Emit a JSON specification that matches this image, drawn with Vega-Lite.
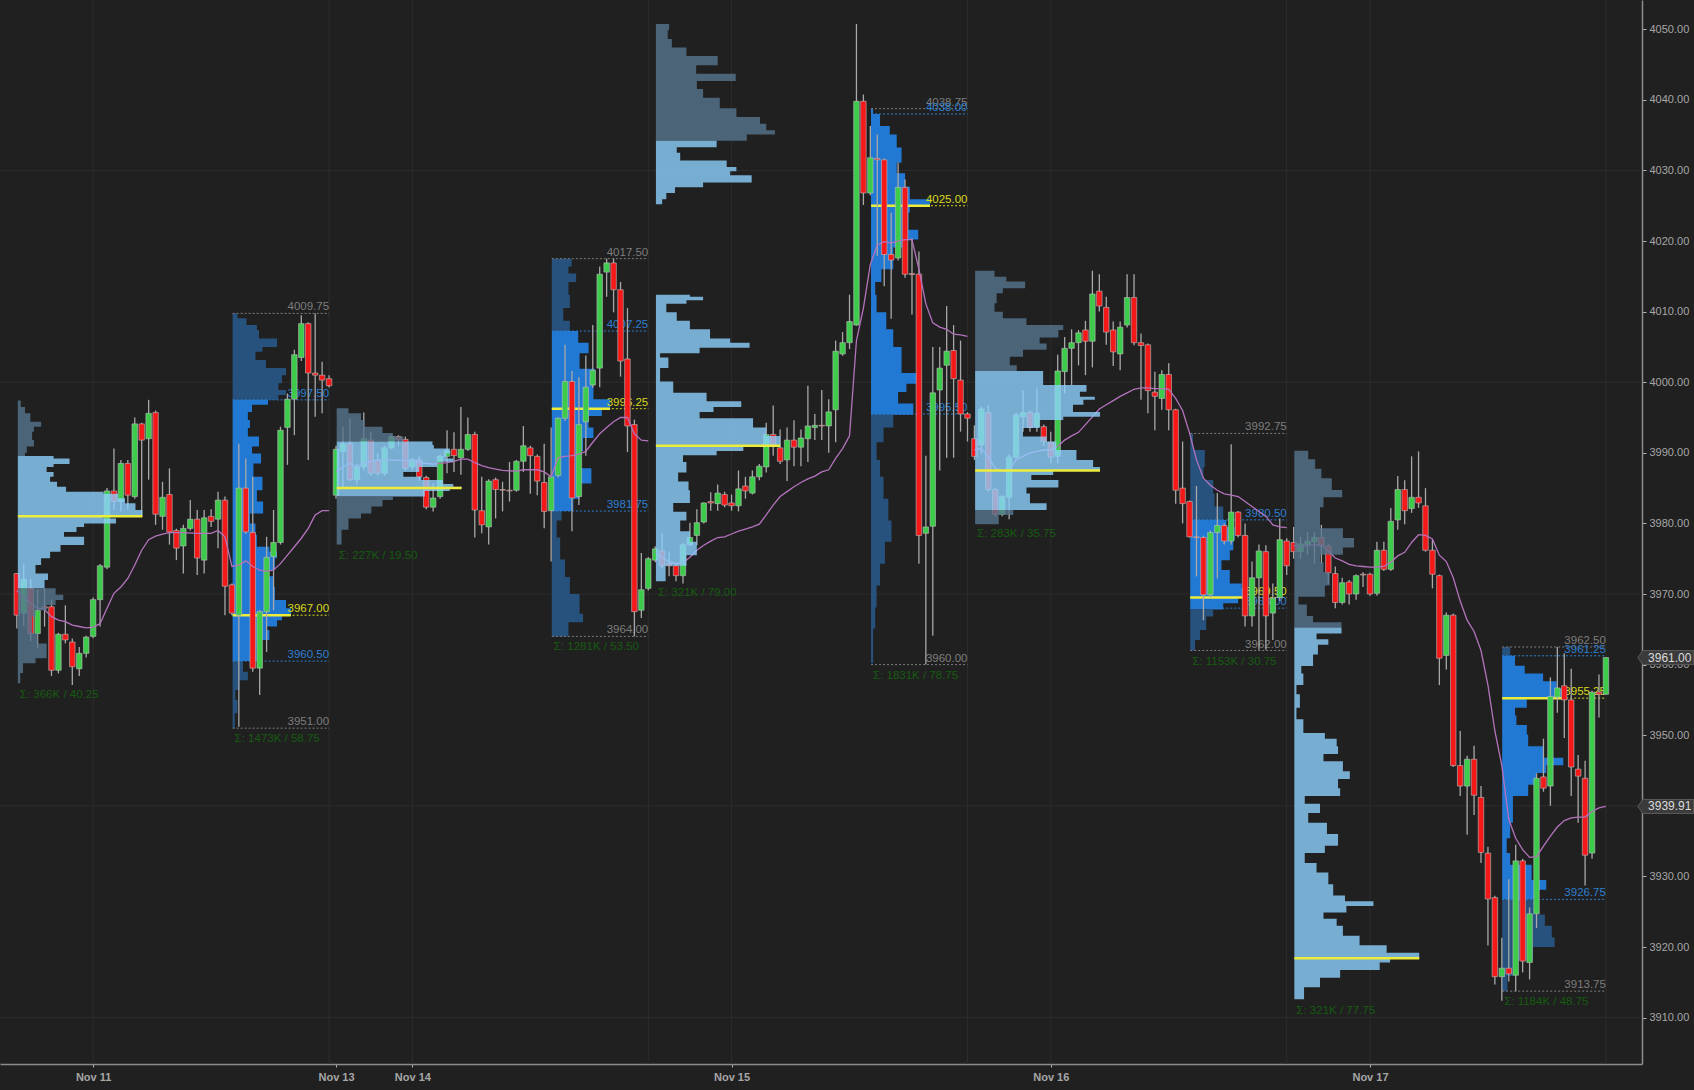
{
"$schema":"https://vega.github.io/schema/vega-lite/v6.json",
"width":1642,"height":1064,"autosize":"none",
"padding":{"left":0,"top":0,"right":52,"bottom":26},
"background":"#202020",
"config":{"view":{"stroke":null},"font":"Liberation Sans"},
"datasets":{
"zones":[
{"z":"1a","s":0.15,"k":"eo"},{"z":"1b","s":0.15,"k":"ev"},{"z":"1c","s":0.15,"k":"eo"},
{"z":"2a","s":31.1,"k":"ro"},{"z":"2b","s":31.1,"k":"rv"},{"z":"2c","s":31.1,"k":"ro"},
{"z":"3a","s":46.1,"k":"eo"},{"z":"3b","s":46.1,"k":"ev"},{"z":"3c","s":46.1,"k":"eo"},
{"z":"4a","s":77.1,"k":"ro"},{"z":"4b","s":77.1,"k":"rv"},{"z":"4c","s":77.1,"k":"ro"},
{"z":"5a","s":92.1,"k":"eo"},{"z":"5b","s":92.1,"k":"ev"},{"z":"5c","s":92.1,"k":"ev"},
{"z":"6b","s":123.1,"k":"rv"},{"z":"6c","s":123.1,"k":"ro"},
{"z":"7a","s":138.1,"k":"eo"},{"z":"7b","s":138.1,"k":"ev"},{"z":"7c","s":138.1,"k":"eo"},
{"z":"8a","s":169.1,"k":"ro"},{"z":"8b","s":169.1,"k":"rv"},{"z":"8c","s":169.1,"k":"ro"},
{"z":"9a","s":184.1,"k":"eo"},{"z":"9b","s":184.1,"k":"ev"},
{"z":"10a","s":214.05,"k":"ro"},{"z":"10b","s":214.05,"k":"rv"},{"z":"10c","s":214.05,"k":"ro"}
],
"eth":[
{"z":"1a","p":3997.4,"e":0.15},{"z":"1a","p":3996.5,"e":0.57},{"z":"1a","p":3995.6,"e":1.18},{"z":"1a","p":3994.4,"e":1.95},{"z":"1a","p":3993.7,"e":3.5},{"z":"1a","p":3993,"e":2.47},{"z":"1a","p":3991.8,"e":2.21},{"z":"1a","p":3990.9,"e":2.47},{"z":"1a","p":3990,"e":1.44},{"z":"1a","p":3989.55,"e":1.18},
{"z":"1b","p":3989.55,"e":1.18},{"z":"1b","p":3989.2,"e":5.3},{"z":"1b","p":3988.75,"e":7.6},{"z":"1b","p":3988.4,"e":7.6},{"z":"1b","p":3988,"e":5.3},{"z":"1b","p":3987.3,"e":4.3},{"z":"1b","p":3986.6,"e":5.3},{"z":"1b","p":3985.9,"e":4.8},{"z":"1b","p":3985.2,"e":5.8},{"z":"1b","p":3984.5,"e":7.1},{"z":"1b","p":3984.2,"e":12.5},{"z":"1b","p":3983.55,"e":14.6},{"z":"1b","p":3982.85,"e":15.6},{"z":"1b","p":3981.9,"e":17.1},{"z":"1b","p":3981.2,"e":18.1},{"z":"1b","p":3980.7,"e":12.5},{"z":"1b","p":3980,"e":14.3},{"z":"1b","p":3979.5,"e":9.7},{"z":"1b","p":3978.8,"e":8.6},{"z":"1b","p":3978.1,"e":6.8},{"z":"1b","p":3976.95,"e":9.7},{"z":"1b","p":3976,"e":6.3},{"z":"1b","p":3975.05,"e":4.8},{"z":"1b","p":3974.1,"e":3.5},{"z":"1b","p":3972.9,"e":2.7},{"z":"1b","p":3972,"e":4.5},{"z":"1b","p":3970.8,"e":4},
{"z":"1c","p":3970.8,"e":4},{"z":"1c","p":3969.9,"e":5.6},{"z":"1c","p":3969.15,"e":6.7},{"z":"1c","p":3968.45,"e":5.6},{"z":"1c","p":3967.7,"e":4.3},{"z":"1c","p":3966.8,"e":2.7},{"z":"1c","p":3965.4,"e":2.2},{"z":"1c","p":3964.4,"e":2.2},{"z":"1c","p":3963,"e":3},{"z":"1c","p":3960.9,"e":4.3},{"z":"1c","p":3960.2,"e":2.7},{"z":"1c","p":3958.8,"e":0.9},{"z":"1c","p":3957.35,"e":0.5},
{"z":"3a","p":3996.3,"e":46.1},{"z":"3a","p":3995.6,"e":47.8},{"z":"3a","p":3994.65,"e":49.6},{"z":"3a","p":3993.7,"e":50.1},{"z":"3a","p":3992.8,"e":52.7},{"z":"3a","p":3992.3,"e":54.2},{"z":"3a","p":3991.6,"e":55.7},
{"z":"3b","p":3991.6,"e":55.7},{"z":"3b","p":3991.1,"e":59.9},{"z":"3b","p":3990.6,"e":60.1},{"z":"3b","p":3989.9,"e":62.4},{"z":"3b","p":3989.2,"e":61.9},{"z":"3b","p":3988.75,"e":62.9},{"z":"3b","p":3988,"e":60.6},{"z":"3b","p":3987.3,"e":58},{"z":"3b","p":3986.6,"e":55.7},{"z":"3b","p":3986.15,"e":58.3},{"z":"3b","p":3985.6,"e":61.4},{"z":"3b","p":3985.2,"e":62.9},{"z":"3b","p":3985,"e":64.1},{"z":"3b","p":3984.6,"e":62.4},{"z":"3b","p":3983.8,"e":58.8},
{"z":"3c","p":3983.8,"e":58.8},{"z":"3c","p":3983.3,"e":54.2},{"z":"3c","p":3982.4,"e":52.7},{"z":"3c","p":3981.4,"e":51.1},{"z":"3c","p":3980.7,"e":49.6},{"z":"3c","p":3979.1,"e":47.8},{"z":"3c","p":3977,"e":46.8},
{"z":"5a","p":4050.75,"e":92.1},{"z":"5a","p":4049.84,"e":94},{"z":"5a","p":4048.6,"e":93.8},{"z":"5a","p":4047.4,"e":94.4},{"z":"5a","p":4046.2,"e":96.5},{"z":"5a","p":4044.9,"e":101},{"z":"5a","p":4043.7,"e":97.9},{"z":"5a","p":4042.65,"e":103.6},{"z":"5a","p":4041.55,"e":98},{"z":"5a","p":4040.3,"e":98.9},{"z":"5a","p":4038.8,"e":101.3},{"z":"5a","p":4037.55,"e":103.7},{"z":"5a","p":4036.6,"e":107.1},{"z":"5a","p":4035.7,"e":108},{"z":"5a","p":4035.1,"e":109.25},{"z":"5a","p":4034.2,"e":105.2},
{"z":"5b","p":4034.2,"e":105.2},{"z":"5b","p":4033.3,"e":100.85},{"z":"5b","p":4032.5,"e":95.1},{"z":"5b","p":4031.4,"e":95.6},{"z":"5b","p":4030.5,"e":102.3},{"z":"5b","p":4029.9,"e":103.7},{"z":"5b","p":4029.3,"e":102.8},{"z":"5b","p":4028.3,"e":105.9},{"z":"5b","p":4027.6,"e":98.9},{"z":"5b","p":4026.8,"e":94.85},{"z":"5b","p":4025.9,"e":93.6},{"z":"5b","p":4025.2,"e":93},
{"z":"5c","p":4012.4,"e":92.1},{"z":"5c","p":4012.1,"e":97},{"z":"5c","p":4011.6,"e":98.9},{"z":"5c","p":4011.1,"e":96.5},{"z":"5c","p":4009.9,"e":93.6},{"z":"5c","p":4008.7,"e":95.1},{"z":"5c","p":4007.5,"e":97},{"z":"5c","p":4006.2,"e":99.9},{"z":"5c","p":4005.6,"e":102.8},{"z":"5c","p":4004.9,"e":105.6},{"z":"5c","p":4004.1,"e":98.4},{"z":"5c","p":4003.5,"e":92.7},{"z":"5c","p":4002,"e":93.9},{"z":"5c","p":4000.1,"e":92.7},{"z":"5c","p":3998.5,"e":94.6},{"z":"5c","p":3997.3,"e":99.4},{"z":"5c","p":3996.5,"e":104.4},{"z":"5c","p":3995.8,"e":100.4},{"z":"5c","p":3994.9,"e":98.4},{"z":"5c","p":3993.6,"e":106.1},{"z":"5c","p":3992.4,"e":108},{"z":"5c","p":3991,"e":110},{"z":"5c","p":3990.25,"e":104.7},{"z":"5c","p":3989.65,"e":100.85},{"z":"5c","p":3988.7,"e":96},{"z":"5c","p":3987.2,"e":96.5},{"z":"5c","p":3985.95,"e":95.3},{"z":"5c","p":3984.7,"e":96.8},{"z":"5c","p":3982.9,"e":97},{"z":"5c","p":3981.65,"e":94.6},{"z":"5c","p":3980.4,"e":96.5},{"z":"5c","p":3978.9,"e":95.6},{"z":"5c","p":3977.4,"e":97},{"z":"5c","p":3975.5,"e":98},{"z":"5c","p":3974,"e":96.5},{"z":"5c","p":3971.8,"e":93.5},
{"z":"7a","p":4015.8,"e":138.1},{"z":"7a","p":4014.95,"e":140.9},{"z":"7a","p":4014.25,"e":142.6},{"z":"7a","p":4013.3,"e":145.3},{"z":"7a","p":4012.6,"e":142.1},{"z":"7a","p":4011.2,"e":141.2},{"z":"7a","p":4010,"e":140.9},{"z":"7a","p":4009.05,"e":142.1},{"z":"7a","p":4008.1,"e":145.5},{"z":"7a","p":4007.4,"e":150.8},{"z":"7a","p":4006.35,"e":150.1},{"z":"7a","p":4005.5,"e":147.4},{"z":"7a","p":4004.6,"e":148.4},{"z":"7a","p":4003.6,"e":145},{"z":"7a","p":4002.4,"e":143.1},{"z":"7a","p":4001.6,"e":144.1},
{"z":"7b","p":4001.6,"e":149.35},{"z":"7b","p":4000.55,"e":147.9},{"z":"7b","p":3999.6,"e":147.9},{"z":"7b","p":3998.65,"e":154.15},{"z":"7b","p":3997.95,"e":153.2},{"z":"7b","p":3997.5,"e":155.35},{"z":"7b","p":3996.8,"e":153.7},{"z":"7b","p":3995.8,"e":152.2},{"z":"7b","p":3995.1,"e":156.1},{"z":"7b","p":3994.65,"e":150.8},{"z":"7b","p":3993.5,"e":147.4},{"z":"7b","p":3992.3,"e":145},{"z":"7b","p":3991.6,"e":148.4},{"z":"7b","p":3990.4,"e":149.8},{"z":"7b","p":3989,"e":152.7},{"z":"7b","p":3988,"e":155.1},{"z":"7b","p":3987.5,"e":156.1},{"z":"7b","p":3986.85,"e":149.35},{"z":"7b","p":3986.15,"e":146.2},{"z":"7b","p":3985.1,"e":150.1},{"z":"7b","p":3984.25,"e":145.5},{"z":"7b","p":3982.85,"e":146},{"z":"7b","p":3981.9,"e":148.4},
{"z":"7c","p":3981.9,"e":146.2},{"z":"7c","p":3981.2,"e":143.6},{"z":"7c","p":3979.9,"e":141.5},
{"z":"9a","p":3990.3,"e":184.1},{"z":"9a","p":3989.1,"e":186.1},{"z":"9a","p":3987.75,"e":187.1},{"z":"9a","p":3986.4,"e":188},{"z":"9a","p":3984.75,"e":189.5},{"z":"9a","p":3983.7,"e":191},{"z":"9a","p":3982.3,"e":188.3},{"z":"9a","p":3981,"e":187.8},{"z":"9a","p":3979.3,"e":187.8},{"z":"9a","p":3977.95,"e":191.1},{"z":"9a","p":3976.6,"e":192.7},{"z":"9a","p":3975.55,"e":191.1},{"z":"9a","p":3974.5,"e":187.8},{"z":"9a","p":3973.1,"e":188.3},{"z":"9a","p":3971.2,"e":189.2},{"z":"9a","p":3969.6,"e":188.5},{"z":"9a","p":3968.5,"e":184.7},{"z":"9a","p":3966.9,"e":185.9},{"z":"9a","p":3966,"e":186.8},{"z":"9a","p":3965.25,"e":190.9},
{"z":"9b","p":3965.25,"e":190.9},{"z":"9b","p":3964.4,"e":190.9},{"z":"9b","p":3963.6,"e":187.3},{"z":"9b","p":3962.8,"e":189},{"z":"9b","p":3961.45,"e":187.5},{"z":"9b","p":3959.8,"e":186.8},{"z":"9b","p":3958.75,"e":185.1},{"z":"9b","p":3957.1,"e":185.4},{"z":"9b","p":3955.8,"e":184.4},{"z":"9b","p":3953.9,"e":184.9},{"z":"9b","p":3952.25,"e":184.4},{"z":"9b","p":3950.3,"e":185.4},{"z":"9b","p":3949.5,"e":188.5},{"z":"9b","p":3948.45,"e":190.2},{"z":"9b","p":3947.35,"e":190.4},{"z":"9b","p":3946.3,"e":188.3},{"z":"9b","p":3944.9,"e":191.1},{"z":"9b","p":3943.8,"e":192.1},{"z":"9b","p":3942.5,"e":190.4},{"z":"9b","p":3941.4,"e":190.7},{"z":"9b","p":3940.3,"e":185.6},{"z":"9b","p":3939,"e":187.8},{"z":"9b","p":3937.6,"e":186.1},{"z":"9b","p":3936,"e":188.8},{"z":"9b","p":3934.35,"e":190.4},{"z":"9b","p":3933.3,"e":188.5},{"z":"9b","p":3931.9,"e":185.6},{"z":"9b","p":3930.55,"e":187.3},{"z":"9b","p":3928.9,"e":189},{"z":"9b","p":3927.3,"e":189.7},{"z":"9b","p":3926.5,"e":191.4},{"z":"9b","p":3925.8,"e":195.5},{"z":"9b","p":3924.9,"e":191.6},{"z":"9b","p":3924,"e":188.3},{"z":"9b","p":3923,"e":190.2},{"z":"9b","p":3921.6,"e":191.1},{"z":"9b","p":3920.25,"e":193.5},{"z":"9b","p":3919.2,"e":197.4},{"z":"9b","p":3918.4,"e":202.1},{"z":"9b","p":3917.8,"e":197.9},{"z":"9b","p":3916.75,"e":196.4},{"z":"9b","p":3915.65,"e":190.7},{"z":"9b","p":3914.3,"e":187.8},{"z":"9b","p":3912.6,"e":185.5}
],
"rth":[
{"z":"2a","p":4009.76,"e":31.1},{"z":"2a","p":4009.05,"e":31.8},{"z":"2a","p":4008.1,"e":33.1},{"z":"2a","p":4007.4,"e":34.6},{"z":"2a","p":4006.2,"e":34.9},{"z":"2a","p":4005,"e":37.5},{"z":"2a","p":4004.3,"e":35.4},{"z":"2a","p":4003.15,"e":34.4},{"z":"2a","p":4002,"e":35.9},{"z":"2a","p":4001,"e":38.8},{"z":"2a","p":3999.85,"e":38.2},{"z":"2a","p":3998.9,"e":37.7},{"z":"2a","p":3998.2,"e":38.8},{"z":"2a","p":3997.5,"e":37.7},
{"z":"2b","p":3997.5,"e":37.7},{"z":"2b","p":3996.8,"e":36.2},{"z":"2b","p":3995.8,"e":33.9},{"z":"2b","p":3994.65,"e":33.3},{"z":"2b","p":3993.5,"e":33.6},{"z":"2b","p":3992.3,"e":33.3},{"z":"2b","p":3990.9,"e":34.9},{"z":"2b","p":3989.9,"e":33.9},{"z":"2b","p":3988.5,"e":35.2},{"z":"2b","p":3986.6,"e":34.1},{"z":"2b","p":3984.7,"e":35.4},{"z":"2b","p":3983.1,"e":34.6},{"z":"2b","p":3981.4,"e":35.5},{"z":"2b","p":3980,"e":33.6},{"z":"2b","p":3978.4,"e":34.4},{"z":"2b","p":3976.7,"e":34.6},{"z":"2b","p":3976,"e":36.4},{"z":"2b","p":3975.05,"e":37.5},{"z":"2b","p":3973.4,"e":37.2},{"z":"2b","p":3972.5,"e":35.9},{"z":"2b","p":3971,"e":37},{"z":"2b","p":3969.15,"e":37.2},{"z":"2b","p":3968,"e":38.8},{"z":"2b","p":3967.5,"e":39.5},{"z":"2b","p":3966.95,"e":39.5},{"z":"2b","p":3966.3,"e":38.2},{"z":"2b","p":3965.4,"e":37.5},{"z":"2b","p":3964.9,"e":35.9},{"z":"2b","p":3963.5,"e":36.4},{"z":"2b","p":3962.55,"e":35.2},{"z":"2b","p":3960.5,"e":34.6},
{"z":"2c","p":3960.5,"e":33.6},{"z":"2c","p":3959,"e":32.6},{"z":"2c","p":3957.8,"e":33.3},{"z":"2c","p":3956.4,"e":32.1},{"z":"2c","p":3955,"e":31.5},{"z":"2c","p":3953.1,"e":31.8},{"z":"2c","p":3951,"e":31.4},
{"z":"4a","p":4017.5,"e":77.1},{"z":"4a","p":4016.4,"e":79.95},{"z":"4a","p":4015.4,"e":79.5},{"z":"4a","p":4014.2,"e":80.6},{"z":"4a","p":4012.4,"e":79.5},{"z":"4a","p":4010.5,"e":79.7},{"z":"4a","p":4008.7,"e":78.75},{"z":"4a","p":4007.25,"e":79.7},
{"z":"4b","p":4007.25,"e":80.2},{"z":"4b","p":4005.6,"e":80.9},{"z":"4b","p":4004.1,"e":82.4},{"z":"4b","p":4001.9,"e":81.1},{"z":"4b","p":3999.8,"e":83.3},{"z":"4b","p":3997.6,"e":83.1},{"z":"4b","p":3996.25,"e":85.5},{"z":"4b","p":3995.2,"e":84.3},{"z":"4b","p":3993.6,"e":82.4},{"z":"4b","p":3992.1,"e":83.1},{"z":"4b","p":3990.25,"e":81.6},{"z":"4b","p":3987.8,"e":81.1},{"z":"4b","p":3985.65,"e":82.8},{"z":"4b","p":3983.5,"e":81.1},{"z":"4b","p":3981.75,"e":80.2},
{"z":"4c","p":3981.75,"e":80},{"z":"4c","p":3980.4,"e":78.5},{"z":"4c","p":3978,"e":77.8},{"z":"4c","p":3974.9,"e":78.3},{"z":"4c","p":3972.4,"e":79},{"z":"4c","p":3970,"e":79.7},{"z":"4c","p":3967.2,"e":81.1},{"z":"4c","p":3966,"e":81.6},{"z":"4c","p":3964,"e":79.5},
{"z":"6b","p":4038.75,"e":123.1},{"z":"6b","p":4038,"e":123.4},{"z":"6b","p":4036.3,"e":124.4},{"z":"6b","p":4035.1,"e":125.8},{"z":"6b","p":4033.25,"e":126.8},{"z":"6b","p":4031.1,"e":127.5},{"z":"6b","p":4029.6,"e":126.8},{"z":"6b","p":4027.7,"e":128},{"z":"6b","p":4025.9,"e":128.7},{"z":"6b","p":4025.1,"e":131.6},{"z":"6b","p":4024,"e":128.7},{"z":"6b","p":4021.6,"e":128.5},{"z":"6b","p":4020.2,"e":129.9},{"z":"6b","p":4019.1,"e":127.75},{"z":"6b","p":4016,"e":126.3},{"z":"6b","p":4014.2,"e":124.6},{"z":"6b","p":4012.4,"e":123.7},{"z":"6b","p":4009.9,"e":123.9},{"z":"6b","p":4007.5,"e":125.3},{"z":"6b","p":4005,"e":126.3},{"z":"6b","p":4003.2,"e":127.5},{"z":"6b","p":4001.3,"e":127.5},{"z":"6b","p":3999.8,"e":129.7},{"z":"6b","p":3998.6,"e":128.2},{"z":"6b","p":3997,"e":127},{"z":"6b","p":3995.4,"e":129.2},
{"z":"6c","p":3995.4,"e":127.5},{"z":"6c","p":3993.6,"e":126.3},{"z":"6c","p":3991.5,"e":124.9},{"z":"6c","p":3989,"e":123.9},{"z":"6c","p":3986.6,"e":124.4},{"z":"6c","p":3983.5,"e":124.9},{"z":"6c","p":3980.4,"e":125.6},{"z":"6c","p":3977.4,"e":126.05},{"z":"6c","p":3974.3,"e":125.1},{"z":"6c","p":3971.2,"e":124.4},{"z":"6c","p":3968.1,"e":123.9},{"z":"6c","p":3965.1,"e":123.7},{"z":"6c","p":3960.2,"e":123.4},
{"z":"8a","p":3992.75,"e":169.1},{"z":"8a","p":3990.4,"e":169.5},{"z":"8a","p":3988,"e":171.2},{"z":"8a","p":3986.15,"e":171},{"z":"8a","p":3984.25,"e":172.4},{"z":"8a","p":3982.4,"e":172.6},{"z":"8a","p":3980.5,"e":173.85},
{"z":"8b","p":3980.5,"e":173.85},{"z":"8b","p":3979.5,"e":174.3},{"z":"8b","p":3977.65,"e":175.5},{"z":"8b","p":3976.2,"e":175.3},{"z":"8b","p":3974.8,"e":174.8},{"z":"8b","p":3973.4,"e":173.6},{"z":"8b","p":3971.5,"e":174.8},{"z":"8b","p":3970.8,"e":176.5},{"z":"8b","p":3969.5,"e":176.7},{"z":"8b","p":3968.7,"e":176},{"z":"8b","p":3967.8,"e":173.85},
{"z":"8c","p":3967.8,"e":173.1},{"z":"8c","p":3966.8,"e":172.4},{"z":"8c","p":3964.9,"e":171.4},{"z":"8c","p":3963.5,"e":170.5},{"z":"8c","p":3962,"e":169.8},
{"z":"10a","p":3962.5,"e":214.05},{"z":"10a","p":3961.25,"e":215.2},
{"z":"10b","p":3961.25,"e":215.2},{"z":"10b","p":3959.85,"e":215.9},{"z":"10b","p":3958.75,"e":217.3},{"z":"10b","p":3957.65,"e":219.95},{"z":"10b","p":3956.6,"e":221.9},{"z":"10b","p":3955.2,"e":222.85},{"z":"10b","p":3953.9,"e":217.6},{"z":"10b","p":3952.8,"e":215.9},{"z":"10b","p":3951.45,"e":216.1},{"z":"10b","p":3950.1,"e":217.6},{"z":"10b","p":3948.45,"e":217.8},{"z":"10b","p":3946.8,"e":219.95},{"z":"10b","p":3945.75,"e":222.85},{"z":"10b","p":3944.65,"e":220.4},{"z":"10b","p":3943,"e":219},{"z":"10b","p":3941.4,"e":217.8},{"z":"10b","p":3939.8,"e":215.6},{"z":"10b","p":3937.6,"e":215.6},{"z":"10b","p":3935.4,"e":215.2},{"z":"10b","p":3933.3,"e":214.7},{"z":"10b","p":3931.65,"e":215.2},{"z":"10b","p":3929.5,"e":218.3},{"z":"10b","p":3928.1,"e":220.4},{"z":"10b","p":3926.75,"e":219},
{"z":"10c","p":3926.75,"e":216.6},{"z":"10c","p":3924.6,"e":219},{"z":"10c","p":3923,"e":220.2},{"z":"10c","p":3921.35,"e":221.2},{"z":"10c","p":3920,"e":221.6},{"z":"10c","p":3918.1,"e":218.5},{"z":"10c","p":3915.9,"e":215.6},{"z":"10c","p":3913.75,"e":214.8}
],
"candles":[
{"i":0,"o":3972.9,"h":3972.9,"l":3965.1,"c":3967},{"i":1,"o":3967.3,"h":3974.3,"l":3965.4,"c":3972.1},{"i":2,"o":3970.8,"h":3972.1,"l":3963.3,"c":3964.4},{"i":3,"o":3964.4,"h":3970.6,"l":3962.3,"c":3967.7},{"i":4,"o":3968.2,"h":3970.8,"l":3965.4,"c":3968},{"i":5,"o":3968.2,"h":3969.2,"l":3958.4,"c":3959.2},{"i":6,"o":3959.2,"h":3964.5,"l":3958.75,"c":3964.3},{"i":7,"o":3964.3,"h":3968.4,"l":3963,"c":3963.5},{"i":8,"o":3963.2,"h":3963.7,"l":3957.1,"c":3959.7},{"i":9,"o":3959.4,"h":3962.5,"l":3958.4,"c":3961.6},
{"i":10,"o":3961.6,"h":3964.1,"l":3961,"c":3963.9},{"i":11,"o":3964,"h":3969.5,"l":3963.75,"c":3969.2},{"i":12,"o":3969.2,"h":3974.25,"l":3965.4,"c":3974},{"i":13,"o":3973.8,"h":3985,"l":3973.5,"c":3984.6},{"i":14,"o":3984.6,"h":3990.6,"l":3981.9,"c":3983.1},{"i":15,"o":3983.1,"h":3989,"l":3981.7,"c":3988.5},{"i":16,"o":3988.5,"h":3989,"l":3981.9,"c":3984},{"i":17,"o":3983.8,"h":3995,"l":3983.5,"c":3994.1},{"i":18,"o":3994.1,"h":3994.25,"l":3981,"c":3991.8},{"i":19,"o":3992,"h":3997.5,"l":3986.2,"c":3995.6},
{"i":20,"o":3995.7,"h":3996,"l":3979.8,"c":3981.3},{"i":21,"o":3981,"h":3985.9,"l":3979.1,"c":3983.7},{"i":22,"o":3984.1,"h":3987.8,"l":3977,"c":3978.8},{"i":23,"o":3979,"h":3979.25,"l":3974.8,"c":3976.5},{"i":24,"o":3976.8,"h":3979.8,"l":3972.9,"c":3979.3},{"i":25,"o":3979.3,"h":3983.3,"l":3979,"c":3980.6},{"i":26,"o":3980.6,"h":3981.9,"l":3972.7,"c":3975.1},{"i":27,"o":3974.8,"h":3981.9,"l":3972.9,"c":3980.8},{"i":28,"o":3981,"h":3982,"l":3979.5,"c":3980.3},{"i":29,"o":3980.6,"h":3984.5,"l":3976.5,"c":3983.3},
{"i":30,"o":3983.3,"h":3983.8,"l":3967,"c":3971.1},{"i":31,"o":3971.3,"h":3971.5,"l":3967,"c":3967.3},{"i":32,"o":3967,"h":3991.3,"l":3951.2,"c":3985},{"i":33,"o":3985,"h":3989.2,"l":3978.5,"c":3978.8},{"i":34,"o":3978.7,"h":3986.6,"l":3959,"c":3959.5},{"i":35,"o":3959.5,"h":3967.75,"l":3955.7,"c":3967.5},{"i":36,"o":3967.5,"h":3978.1,"l":3961.8,"c":3975.2},{"i":37,"o":3975.3,"h":3981.9,"l":3967.7,"c":3977.3},{"i":38,"o":3977.3,"h":3993.7,"l":3977,"c":3993.2},{"i":39,"o":3993.6,"h":3998.4,"l":3988.3,"c":3997.6},
{"i":40,"o":3997.6,"h":4004.6,"l":3992.5,"c":4003.9},{"i":41,"o":4003.5,"h":4009.5,"l":4003,"c":4008.3},{"i":42,"o":4008.3,"h":4008.5,"l":3989,"c":4001.3},{"i":43,"o":4001.3,"h":4009.75,"l":3995.1,"c":4001},{"i":44,"o":4001,"h":4002.9,"l":3995.6,"c":4000.3},{"i":45,"o":4000.5,"h":4001,"l":3999.25,"c":3999.5},{"i":46,"o":3984,"h":3991,"l":3983.5,"c":3990.5},{"i":47,"o":3990.2,"h":3993.7,"l":3985.2,"c":3991.3},{"i":48,"o":3991.3,"h":3994.9,"l":3986,"c":3986.2},{"i":49,"o":3986.2,"h":3988.5,"l":3985.5,"c":3988},
{"i":50,"o":3988,"h":3995.7,"l":3987.5,"c":3992},{"i":51,"o":3991.8,"h":3993,"l":3986.75,"c":3987.1},{"i":52,"o":3989,"h":3990,"l":3986.75,"c":3987.1},{"i":53,"o":3987.1,"h":3991,"l":3986.75,"c":3990.7},{"i":54,"o":3990.7,"h":3992.5,"l":3990.5,"c":3992.3},{"i":55,"o":3992.3,"h":3992.5,"l":3991,"c":3991.9},{"i":56,"o":3991.9,"h":3992.3,"l":3987.5,"c":3987.8},{"i":57,"o":3988,"h":3989.25,"l":3987.5,"c":3989},{"i":58,"o":3989,"h":3989.5,"l":3986,"c":3986.6},{"i":59,"o":3986.5,"h":3986.75,"l":3982,"c":3982.3},
{"i":60,"o":3982.3,"h":3985.7,"l":3981.7,"c":3983.6},{"i":61,"o":3983.8,"h":3989.75,"l":3983.5,"c":3989.5},{"i":62,"o":3989.5,"h":3993.2,"l":3987.1,"c":3990.3},{"i":63,"o":3990.5,"h":3992.9,"l":3987.3,"c":3989.6},{"i":64,"o":3989.3,"h":3996.5,"l":3986.9,"c":3990.5},{"i":65,"o":3990.5,"h":3995,"l":3990.25,"c":3992.6},{"i":66,"o":3992.6,"h":3993,"l":3978,"c":3981.9},{"i":67,"o":3981.8,"h":3986.6,"l":3978.6,"c":3979.8},{"i":68,"o":3979.5,"h":3986.25,"l":3977,"c":3986},{"i":69,"o":3986.2,"h":3986.5,"l":3980.7,"c":3984.8},
{"i":70,"o":3984.8,"h":3985.9,"l":3981.7,"c":3984.7},{"i":71,"o":3984.7,"h":3988.7,"l":3983.1,"c":3984.6},{"i":72,"o":3984.7,"h":3989,"l":3984.5,"c":3988.8},{"i":73,"o":3988.8,"h":3993.8,"l":3987.3,"c":3991},{"i":74,"o":3990.7,"h":3991,"l":3984.2,"c":3989.6},{"i":75,"o":3989.5,"h":3989.75,"l":3984,"c":3986},{"i":76,"o":3985.8,"h":3991.3,"l":3979.3,"c":3981.7},{"i":77,"o":3981.8,"h":3993.6,"l":3974.6,"c":3986.6},{"i":78,"o":3986.8,"h":3995,"l":3986.5,"c":3994.9},{"i":79,"o":3994.9,"h":4005.3,"l":3994.5,"c":4000.1},
{"i":80,"o":4000.1,"h":4001.6,"l":3978.9,"c":3983.6},{"i":81,"o":3983.8,"h":4000.7,"l":3982.6,"c":3994},{"i":82,"o":3994.4,"h":4003.8,"l":3989.6,"c":3999.3},{"i":83,"o":3999.6,"h":4008.1,"l":3999.2,"c":4001.7},{"i":84,"o":4002,"h":4016.4,"l":3999.3,"c":4015.3},{"i":85,"o":4015.6,"h":4017.5,"l":4012.1,"c":4016.9},{"i":86,"o":4016.9,"h":4017.5,"l":4009.9,"c":4013.1},{"i":87,"o":4013.1,"h":4014.2,"l":4000.8,"c":4003},{"i":88,"o":4003.3,"h":4010.5,"l":3990.1,"c":3993.8},{"i":89,"o":3994,"h":3994.7,"l":3964,"c":3967.5},
{"i":90,"o":3967.7,"h":3975.8,"l":3966.6,"c":3970.6},{"i":91,"o":3970.8,"h":3975.25,"l":3970.5,"c":3975},{"i":92,"o":3974.8,"h":3976.75,"l":3974.5,"c":3976.4},{"i":93,"o":3976.1,"h":3978.6,"l":3973.7,"c":3974},{"i":94,"o":3974.3,"h":3976,"l":3972.5,"c":3974},{"i":95,"o":3974,"h":3974.25,"l":3971.8,"c":3972.6},{"i":96,"o":3972.6,"h":3977.25,"l":3971.5,"c":3977},{"i":97,"o":3977,"h":3980.1,"l":3976.75,"c":3978},{"i":98,"o":3978.3,"h":3982,"l":3976.9,"c":3980.1},{"i":99,"o":3980.2,"h":3983,"l":3980,"c":3982.9},
{"i":100,"o":3983.1,"h":3984.4,"l":3981.8,"c":3982.9},{"i":101,"o":3982.8,"h":3985.5,"l":3981.8,"c":3984.3},{"i":102,"o":3984.1,"h":3984.5,"l":3982.3,"c":3982.6},{"i":103,"o":3982.9,"h":3984.1,"l":3981.8,"c":3982.5},{"i":104,"o":3982.5,"h":3987.5,"l":3981.7,"c":3984.9},{"i":105,"o":3985.3,"h":3986.6,"l":3983.5,"c":3984.6},{"i":106,"o":3984.3,"h":3987.5,"l":3984.1,"c":3986.6},{"i":107,"o":3986.6,"h":3988.4,"l":3986.1,"c":3988.1},{"i":108,"o":3988,"h":3994.25,"l":3987.2,"c":3992.6},{"i":109,"o":3992.6,"h":3996.7,"l":3989.6,"c":3991.2},
{"i":110,"o":3990.7,"h":3993.3,"l":3988.4,"c":3988.8},{"i":111,"o":3989,"h":3993.6,"l":3986,"c":3991.8},{"i":112,"o":3991.8,"h":3994.6,"l":3988.1,"c":3990.8},{"i":113,"o":3990.8,"h":3993.3,"l":3988.1,"c":3992.1},{"i":114,"o":3992,"h":3999.5,"l":3988.7,"c":3993.8},{"i":115,"o":3993.6,"h":3995.5,"l":3991.8,"c":3993.9},{"i":116,"o":3993.9,"h":3998.9,"l":3991.8,"c":3993.8},{"i":117,"o":3993.8,"h":3997.6,"l":3990,"c":3995.8},{"i":118,"o":3996.1,"h":4005.9,"l":3991.5,"c":4004.4},{"i":119,"o":4004,"h":4007.1,"l":4003.75,"c":4005.6},
{"i":120,"o":4005.6,"h":4012.4,"l":4004.7,"c":4008.6},{"i":121,"o":4008.1,"h":4050.75,"l":4008,"c":4039.8},{"i":122,"o":4039.8,"h":4040.75,"l":4025.1,"c":4026.8},{"i":123,"o":4026.8,"h":4036.3,"l":4026.5,"c":4031.8},{"i":124,"o":4031.7,"h":4035.1,"l":4017.9,"c":4031.5},{"i":125,"o":4031.5,"h":4031.7,"l":4013.6,"c":4018.1},{"i":126,"o":4018.1,"h":4024,"l":4009,"c":4017.3},{"i":127,"o":4017.6,"h":4031.1,"l":4017.25,"c":4027.6},{"i":128,"o":4027.6,"h":4028.7,"l":4014.8,"c":4015.3},{"i":129,"o":4015.4,"h":4020.4,"l":4009.6,"c":4015.25},
{"i":130,"o":4015.3,"h":4018.5,"l":3974.3,"c":3978.3},{"i":131,"o":3978.6,"h":3989.6,"l":3960,"c":3979.5},{"i":132,"o":3979.6,"h":4005,"l":3964.1,"c":3998.5},{"i":133,"o":3998.9,"h":4005,"l":3987.5,"c":4002},{"i":134,"o":4002.4,"h":4010.8,"l":3989.3,"c":4004.4},{"i":135,"o":4004.5,"h":4008.1,"l":3989.3,"c":4000.5},{"i":136,"o":4000.3,"h":4005.9,"l":3993,"c":3995.5},{"i":137,"o":3995.5,"h":3995.75,"l":3991.6,"c":3994.9},{"i":138,"o":3992,"h":3993.9,"l":3989,"c":3989.5},{"i":139,"o":3991.1,"h":3996.5,"l":3989.9,"c":3996.2},
{"i":140,"o":3995.7,"h":3996.8,"l":3984.5,"c":3984.8},{"i":141,"o":3984.8,"h":3985,"l":3981,"c":3981.3},{"i":142,"o":3981.3,"h":3984,"l":3981,"c":3983.8},{"i":143,"o":3983.7,"h":3989.75,"l":3980.6,"c":3989.4},{"i":144,"o":3989.4,"h":3995.75,"l":3989,"c":3995.4},{"i":145,"o":3995.1,"h":3998.9,"l":3993,"c":3995.7},{"i":146,"o":3995.7,"h":3996,"l":3993,"c":3993.6},{"i":147,"o":3993.7,"h":3999.1,"l":3993,"c":3995.6},{"i":148,"o":3993.7,"h":3994,"l":3991,"c":3991.6},{"i":149,"o":3991.5,"h":3993,"l":3988.5,"c":3989.4},
{"i":150,"o":3989.5,"h":4003.9,"l":3988.5,"c":4001.6},{"i":151,"o":4001.5,"h":4006.4,"l":3998.4,"c":4004.8},{"i":152,"o":4004.8,"h":4007.5,"l":3999.6,"c":4005.6},{"i":153,"o":4005.6,"h":4007.4,"l":4002.4,"c":4007},{"i":154,"o":4007.4,"h":4008.7,"l":4001,"c":4005.8},{"i":155,"o":4005.8,"h":4015.8,"l":4002.1,"c":4012.5},{"i":156,"o":4012.9,"h":4015.3,"l":4010,"c":4010.8},{"i":157,"o":4010.6,"h":4012.1,"l":4005.3,"c":4007.1},{"i":158,"o":4007.4,"h":4008.6,"l":4002.3,"c":4004.3},{"i":159,"o":4004,"h":4008.6,"l":4001.7,"c":4007.8},
{"i":160,"o":4008.1,"h":4015.3,"l":4007.75,"c":4012},{"i":161,"o":4012,"h":4015.3,"l":4005.25,"c":4005.6},{"i":162,"o":4005.6,"h":4006.9,"l":3997.5,"c":4005.2},{"i":163,"o":4005.3,"h":4005.5,"l":3995.6,"c":3998.8},{"i":164,"o":3998.6,"h":4001.5,"l":3993.2,"c":3998},{"i":165,"o":3997.7,"h":4001.7,"l":3996.1,"c":4001.1},{"i":166,"o":4001.1,"h":4002.7,"l":3993.2,"c":3996.1},{"i":167,"o":3996.1,"h":3996.25,"l":3982.8,"c":3984.7},{"i":168,"o":3985,"h":3991.6,"l":3980,"c":3982.8},{"i":169,"o":3983.1,"h":3983.25,"l":3978,"c":3978.1},
{"i":170,"o":3978.1,"h":3985.3,"l":3972.5,"c":3978},{"i":171,"o":3978,"h":3978.25,"l":3966.3,"c":3969.9},{"i":172,"o":3969.9,"h":3979,"l":3969.5,"c":3978.7},{"i":173,"o":3978.7,"h":3984.3,"l":3972.2,"c":3979.7},{"i":174,"o":3979.7,"h":3980,"l":3977,"c":3977.5},{"i":175,"o":3977.5,"h":3991.2,"l":3977,"c":3981.6},{"i":176,"o":3981.6,"h":3981.75,"l":3978,"c":3978.3},{"i":177,"o":3978.3,"h":3980,"l":3965.4,"c":3966.9},{"i":178,"o":3966.9,"h":3974.6,"l":3965.4,"c":3972.3},{"i":179,"o":3972.3,"h":3977,"l":3962.1,"c":3976.1},
{"i":180,"o":3976,"h":3976.9,"l":3962.1,"c":3966.9},{"i":181,"o":3967.3,"h":3971.5,"l":3963.5,"c":3969.4},{"i":182,"o":3969.5,"h":3980.7,"l":3969,"c":3977.7},{"i":183,"o":3977.5,"h":3977.9,"l":3972.7,"c":3974},{"i":184,"o":3977.3,"h":3979.5,"l":3975,"c":3976},{"i":185,"o":3976,"h":3978.1,"l":3975,"c":3977.1},{"i":186,"o":3977,"h":3978.8,"l":3975.5,"c":3977.5},{"i":187,"o":3977.4,"h":3978.8,"l":3974.3,"c":3978},{"i":188,"o":3978,"h":3979.8,"l":3974.3,"c":3976.8},{"i":189,"o":3976.8,"h":3977,"l":3971.5,"c":3973},
{"i":190,"o":3972.9,"h":3973.9,"l":3968,"c":3968.8},{"i":191,"o":3968.8,"h":3972.3,"l":3968.5,"c":3971.6},{"i":192,"o":3971.7,"h":3972,"l":3968.5,"c":3970},{"i":193,"o":3970,"h":3972.75,"l":3969.2,"c":3972.6},{"i":194,"o":3972.8,"h":3973.1,"l":3971,"c":3972.7},{"i":195,"o":3972.8,"h":3973,"l":3969.75,"c":3970},{"i":196,"o":3970.1,"h":3977.4,"l":3969.75,"c":3976.2},{"i":197,"o":3976.2,"h":3977.4,"l":3973.25,"c":3973.5},{"i":198,"o":3973.5,"h":3982.2,"l":3973.25,"c":3980.3},{"i":199,"o":3980.5,"h":3986.7,"l":3979.1,"c":3984.8},
{"i":200,"o":3984.8,"h":3986.1,"l":3979.9,"c":3981.8},{"i":201,"o":3982.1,"h":3989.5,"l":3981.5,"c":3983.7},{"i":202,"o":3983.7,"h":3990.2,"l":3982.2,"c":3982.9},{"i":203,"o":3982.5,"h":3985,"l":3976,"c":3976.2},{"i":204,"o":3976.2,"h":3977.7,"l":3970.8,"c":3972.8},{"i":205,"o":3972.6,"h":3972.75,"l":3957.1,"c":3960.9},{"i":206,"o":3961.3,"h":3967.4,"l":3959.3,"c":3967},{"i":207,"o":3967,"h":3967.25,"l":3945.5,"c":3945.7},{"i":208,"o":3945.7,"h":3950.6,"l":3941.4,"c":3942.8},{"i":209,"o":3942.8,"h":3947.1,"l":3935.9,"c":3946.6},
{"i":210,"o":3946.6,"h":3948.5,"l":3938.7,"c":3941.5},{"i":211,"o":3941.2,"h":3942.8,"l":3931.9,"c":3933.4},{"i":212,"o":3933.3,"h":3934.2,"l":3920.2,"c":3926.8},{"i":213,"o":3927,"h":3927.25,"l":3914.7,"c":3915.8},{"i":214,"o":3915.8,"h":3921.3,"l":3912.4,"c":3917},{"i":215,"o":3917,"h":3929.6,"l":3915.1,"c":3916.2},{"i":216,"o":3916,"h":3934.5,"l":3913.75,"c":3932.2},{"i":217,"o":3932.2,"h":3932.5,"l":3916.4,"c":3918},{"i":218,"o":3917.8,"h":3925.6,"l":3915.4,"c":3924.7},{"i":219,"o":3924.7,"h":3944.6,"l":3922.7,"c":3943.9},
{"i":220,"o":3944.1,"h":3949.5,"l":3942,"c":3942.5},{"i":221,"o":3942.8,"h":3958.2,"l":3940,"c":3955.5},{"i":222,"o":3955.4,"h":3962.5,"l":3953.2,"c":3956.7},{"i":223,"o":3957,"h":3961.6,"l":3949.6,"c":3955},{"i":224,"o":3955,"h":3959.4,"l":3941.4,"c":3945.5},{"i":225,"o":3945.2,"h":3947.2,"l":3937.6,"c":3944.2},{"i":226,"o":3943.9,"h":3946.4,"l":3928.7,"c":3933},{"i":227,"o":3933.3,"h":3956.3,"l":3932.5,"c":3956.1},{"i":228,"o":3956.1,"h":3958.6,"l":3952.5,"c":3955.8},{"i":229,"o":3955.8,"h":3961,"l":3955.75,"c":3961}
],
"vwap":[
{"g":1,"i":0,"p":3970.5},{"g":1,"i":1,"p":3969.5},{"g":1,"i":2,"p":3968.7},{"g":1,"i":3,"p":3968},{"g":1,"i":4,"p":3967.8},{"g":1,"i":5,"p":3966.8},{"g":1,"i":6,"p":3966.3},{"g":1,"i":7,"p":3966.1},{"g":1,"i":8,"p":3965.6},{"g":1,"i":9,"p":3965.4},{"g":1,"i":10,"p":3965.2},{"g":1,"i":11,"p":3965.3},{"g":1,"i":12,"p":3965.8},{"g":1,"i":13,"p":3968},{"g":1,"i":14,"p":3970.1},{"g":1,"i":15,"p":3971},{"g":1,"i":16,"p":3972.2},{"g":1,"i":17,"p":3974.1},{"g":1,"i":18,"p":3976.2},{"g":1,"i":19,"p":3977.7},{"g":1,"i":20,"p":3978.2},{"g":1,"i":21,"p":3978.5},{"g":1,"i":22,"p":3978.7},{"g":1,"i":24,"p":3978.7},{"g":1,"i":26,"p":3978.6},{"g":1,"i":28,"p":3978.6},{"g":1,"i":29,"p":3979},{"g":1,"i":30,"p":3978.1},{"g":1,"i":31,"p":3973.9},{"g":1,"i":32,"p":3974.1},{"g":1,"i":33,"p":3974.7},{"g":1,"i":34,"p":3973.9},{"g":1,"i":35,"p":3973.4},{"g":1,"i":36,"p":3973.2},{"g":1,"i":37,"p":3973.4},{"g":1,"i":38,"p":3974.3},{"g":1,"i":39,"p":3975.5},{"g":1,"i":40,"p":3976.7},{"g":1,"i":41,"p":3977.9},{"g":1,"i":42,"p":3979.3},{"g":1,"i":43,"p":3981.2},{"g":1,"i":44,"p":3981.8},{"g":1,"i":45,"p":3981.8},
{"g":2,"i":46,"p":3987.3},{"g":2,"i":47,"p":3988},{"g":2,"i":48,"p":3988.5},{"g":2,"i":49,"p":3988},{"g":2,"i":50,"p":3988.5},{"g":2,"i":51,"p":3988.8},{"g":2,"i":52,"p":3988.9},{"g":2,"i":53,"p":3989},{"g":2,"i":56,"p":3988.9},{"g":2,"i":58,"p":3988.7},{"g":2,"i":59,"p":3988.5},{"g":2,"i":60,"p":3988.4},{"g":2,"i":62,"p":3988.6},{"g":2,"i":63,"p":3988.8},{"g":2,"i":64,"p":3989.1},{"g":2,"i":65,"p":3989.1},{"g":2,"i":66,"p":3988.6},{"g":2,"i":67,"p":3988.2},{"g":2,"i":68,"p":3987.9},{"g":2,"i":69,"p":3987.7},{"g":2,"i":70,"p":3987.5},{"g":2,"i":72,"p":3987.4},{"g":2,"i":73,"p":3987.6},{"g":2,"i":75,"p":3987.6},{"g":2,"i":76,"p":3987.3},{"g":2,"i":77,"p":3986.6},{"g":2,"i":78,"p":3989.3},{"g":2,"i":79,"p":3989.5},{"g":2,"i":80,"p":3989.6},{"g":2,"i":81,"p":3989.8},{"g":2,"i":82,"p":3990.2},{"g":2,"i":83,"p":3991.5},{"g":2,"i":84,"p":3992.7},{"g":2,"i":85,"p":3993.6},{"g":2,"i":86,"p":3994.4},{"g":2,"i":87,"p":3995},{"g":2,"i":88,"p":3995},{"g":2,"i":89,"p":3992.7},{"g":2,"i":90,"p":3991.8},{"g":2,"i":91,"p":3991.7},
{"g":3,"i":92,"p":3976},{"g":3,"i":93,"p":3975.2},{"g":3,"i":94,"p":3974.6},{"g":3,"i":95,"p":3974.3},{"g":3,"i":96,"p":3974.4},{"g":3,"i":97,"p":3975.2},{"g":3,"i":98,"p":3976.2},{"g":3,"i":99,"p":3976.9},{"g":3,"i":100,"p":3977.5},{"g":3,"i":101,"p":3978},{"g":3,"i":102,"p":3978.1},{"g":3,"i":103,"p":3978.5},{"g":3,"i":104,"p":3978.9},{"g":3,"i":105,"p":3979.2},{"g":3,"i":106,"p":3979.5},{"g":3,"i":107,"p":3979.9},{"g":3,"i":108,"p":3981.2},{"g":3,"i":109,"p":3982.6},{"g":3,"i":110,"p":3983.8},{"g":3,"i":111,"p":3984.5},{"g":3,"i":112,"p":3985.2},{"g":3,"i":113,"p":3985.8},{"g":3,"i":114,"p":3986.3},{"g":3,"i":115,"p":3986.7},{"g":3,"i":116,"p":3987.3},{"g":3,"i":117,"p":3987.6},{"g":3,"i":118,"p":3989.2},{"g":3,"i":119,"p":3990.6},{"g":3,"i":120,"p":3992.4},{"g":3,"i":121,"p":4005.9},{"g":3,"i":122,"p":4010.5},{"g":3,"i":123,"p":4016.7},{"g":3,"i":124,"p":4019.4},{"g":3,"i":125,"p":4019.9},{"g":3,"i":126,"p":4019.7},{"g":3,"i":127,"p":4020},{"g":3,"i":128,"p":4020.2},{"g":3,"i":129,"p":4020.2},{"g":3,"i":130,"p":4016},{"g":3,"i":131,"p":4011.1},{"g":3,"i":132,"p":4008.4},{"g":3,"i":133,"p":4007.8},{"g":3,"i":134,"p":4007.5},{"g":3,"i":135,"p":4006.8},{"g":3,"i":136,"p":4006.7},{"g":3,"i":137,"p":4006.5},
{"g":4,"i":138,"p":3990.4},{"g":4,"i":139,"p":3990.6},{"g":4,"i":140,"p":3989.4},{"g":4,"i":141,"p":3987.8},{"g":4,"i":142,"p":3987.4},{"g":4,"i":143,"p":3987.6},{"g":4,"i":144,"p":3989},{"g":4,"i":145,"p":3989.5},{"g":4,"i":146,"p":3990},{"g":4,"i":147,"p":3990.2},{"g":4,"i":148,"p":3990.4},{"g":4,"i":149,"p":3990.4},{"g":4,"i":150,"p":3990.9},{"g":4,"i":151,"p":3991.8},{"g":4,"i":152,"p":3992.4},{"g":4,"i":153,"p":3992.9},{"g":4,"i":154,"p":3994},{"g":4,"i":155,"p":3995.1},{"g":4,"i":156,"p":3996.2},{"g":4,"i":157,"p":3996.8},{"g":4,"i":158,"p":3997.4},{"g":4,"i":159,"p":3998},{"g":4,"i":160,"p":3998.5},{"g":4,"i":161,"p":3999},{"g":4,"i":162,"p":3999.2},{"g":4,"i":163,"p":3999.2},{"g":4,"i":164,"p":3999.1},{"g":4,"i":165,"p":3999.1},{"g":4,"i":166,"p":3999},{"g":4,"i":167,"p":3997.7},{"g":4,"i":168,"p":3996},{"g":4,"i":169,"p":3992.8},{"g":4,"i":170,"p":3989},{"g":4,"i":171,"p":3986.4},{"g":4,"i":172,"p":3985.4},{"g":4,"i":173,"p":3984.7},{"g":4,"i":174,"p":3984.2},{"g":4,"i":175,"p":3984},{"g":4,"i":176,"p":3983.8},{"g":4,"i":177,"p":3983.1},{"g":4,"i":178,"p":3982.4},{"g":4,"i":179,"p":3981.7},{"g":4,"i":180,"p":3981},{"g":4,"i":181,"p":3979.8},{"g":4,"i":182,"p":3979.5},{"g":4,"i":183,"p":3979.4},
{"g":5,"i":184,"p":3976.9},{"g":5,"i":185,"p":3976.7},{"g":5,"i":186,"p":3976.9},{"g":5,"i":187,"p":3977},{"g":5,"i":188,"p":3976.9},{"g":5,"i":189,"p":3976.1},{"g":5,"i":190,"p":3975.1},{"g":5,"i":191,"p":3974.7},{"g":5,"i":192,"p":3974.2},{"g":5,"i":193,"p":3974},{"g":5,"i":194,"p":3973.9},{"g":5,"i":195,"p":3973.8},{"g":5,"i":196,"p":3973.8},{"g":5,"i":197,"p":3973.9},{"g":5,"i":198,"p":3974.5},{"g":5,"i":199,"p":3975.4},{"g":5,"i":200,"p":3975.9},{"g":5,"i":201,"p":3977.3},{"g":5,"i":202,"p":3978.4},{"g":5,"i":203,"p":3978.3},{"g":5,"i":204,"p":3977.8},{"g":5,"i":205,"p":3975.5},{"g":5,"i":206,"p":3974.6},{"g":5,"i":207,"p":3972.3},{"g":5,"i":208,"p":3969},{"g":5,"i":209,"p":3966.3},{"g":5,"i":210,"p":3964.7},{"g":5,"i":211,"p":3962},{"g":5,"i":212,"p":3957.1},{"g":5,"i":213,"p":3950.6},{"g":5,"i":214,"p":3945.7},{"g":5,"i":215,"p":3938.1},{"g":5,"i":216,"p":3935.4},{"g":5,"i":217,"p":3933.8},{"g":5,"i":218,"p":3932.7},{"g":5,"i":219,"p":3932.8},{"g":5,"i":220,"p":3934.3},{"g":5,"i":221,"p":3935.7},{"g":5,"i":222,"p":3937},{"g":5,"i":223,"p":3937.9},{"g":5,"i":224,"p":3938.3},{"g":5,"i":225,"p":3938.4},{"g":5,"i":226,"p":3938.4},{"g":5,"i":227,"p":3939.2},{"g":5,"i":228,"p":3939.7},{"g":5,"i":229,"p":3939.91}
],
"levels":[
{"s":31.1,"e":45,"p":4009.75,"k":"range","t":"4009.75"},{"s":31.1,"e":45,"p":3997.5,"k":"va","t":"3997.50"},{"s":31.1,"e":45,"p":3967,"k":"poc","t":"3967.00"},{"s":31.1,"e":45,"p":3960.5,"k":"va","t":"3960.50"},{"s":31.1,"e":45,"p":3951,"k":"range","t":"3951.00"},
{"s":77.1,"e":91,"p":4017.5,"k":"range","t":"4017.50"},{"s":77.1,"e":91,"p":4007.25,"k":"va","t":"4007.25"},{"s":77.1,"e":91,"p":3996.25,"k":"poc","t":"3996.25"},{"s":77.1,"e":91,"p":3981.75,"k":"va","t":"3981.75"},{"s":77.1,"e":91,"p":3964,"k":"range","t":"3964.00"},
{"s":123.1,"e":137,"p":4038.75,"k":"range","t":"4038.75"},{"s":123.1,"e":137,"p":4038,"k":"va","t":"4038.00"},{"s":123.1,"e":137,"p":4025,"k":"poc","t":"4025.00"},{"s":123.1,"e":137,"p":3995.5,"k":"va","t":"3995.50"},{"s":123.1,"e":137,"p":3960,"k":"range","t":"3960.00"},
{"s":169.1,"e":183,"p":3992.75,"k":"range","t":"3992.75"},{"s":169.1,"e":183,"p":3980.5,"k":"va","t":"3980.50"},{"s":169.1,"e":183,"p":3969.5,"k":"poc","t":"3969.50"},{"s":169.1,"e":183,"p":3968,"k":"va","t":"3968.00"},{"s":169.1,"e":183,"p":3962,"k":"range","t":"3962.00"},
{"s":214.05,"e":229,"p":3962.5,"k":"range","t":"3962.50"},{"s":214.05,"e":229,"p":3961.25,"k":"va","t":"3961.25"},{"s":214.05,"e":229,"p":3955.25,"k":"poc","t":"3955.25"},{"s":214.05,"e":229,"p":3926.75,"k":"va","t":"3926.75"},{"s":214.05,"e":229,"p":3913.75,"k":"range","t":"3913.75"}
],
"pocR":[{"s":31.1,"e":39.5,"p":3967},{"s":77.1,"e":85.5,"p":3996.25},{"s":123.1,"e":131.6,"p":4025},{"s":169.1,"e":176.7,"p":3969.5},{"s":214.05,"e":222.85,"p":3955.25}],
"pocE":[{"s":0.15,"e":18.1,"p":3981},{"s":46.1,"e":64.1,"p":3985},{"s":92.1,"e":110,"p":3991},{"s":138.1,"e":156.1,"p":3987.5},{"s":184.1,"e":202.1,"p":3918.4}],
"totals":[
{"s":0.15,"p":3957.25,"t":"Σ: 366K / 40.25"},{"s":31.1,"p":3951,"t":"Σ: 1473K / 58.75"},{"s":46.1,"p":3977,"t":"Σ: 227K / 19.50"},{"s":77.1,"p":3964,"t":"Σ: 1281K / 53.50"},{"s":92.1,"p":3971.75,"t":"Σ: 321K / 79.00"},{"s":123.1,"p":3960,"t":"Σ: 1831K / 78.75"},{"s":138.1,"p":3980,"t":"Σ: 283K / 35.75"},{"s":169.1,"p":3962,"t":"Σ: 1153K / 30.75"},{"s":184.1,"p":3912.5,"t":"Σ: 321K / 77.75"},{"s":214.05,"p":3913.75,"t":"Σ: 1184K / 48.75"}
],
"flags":[{"i":238.2,"p":3961,"t":"3961.00"},{"i":238.2,"p":3939.91,"t":"3939.91"}],
"gridX":[{"i":11},{"i":45},{"i":57},{"i":91},{"i":103},{"i":137},{"i":149},{"i":183},{"i":195},{"i":229}],
"gridY":[{"p":3910},{"p":3940},{"p":3970},{"p":4000},{"p":4030}]
},
"layer":[
{"data":{"name":"gridX"},"mark":{"type":"rule","color":"#2d2d2d","strokeWidth":1},
 "encoding":{"x":{"field":"i","type":"quantitative","scale":{"domain":[-2.42,234.2],"nice":false,"zero":false,"padding":0},
   "axis":{"title":null,"values":[11,46,57,103,149,195],"grid":false,"labelExpr":"{'11':'Nov 11','46':'Nov 13','57':'Nov 14','103':'Nov 15','149':'Nov 16','195':'Nov 17'}[datum.value]","labelColor":"#a6a6a6","labelFontSize":11,"labelFontWeight":"bold","labelPadding":4,"tickColor":"#b0b0b0","tickSize":3,"domainColor":"#8c8c8c","domainWidth":1.5,"labelFlush":false}}}},
{"data":{"name":"gridY"},"mark":{"type":"rule","color":"#2d2d2d","strokeWidth":1},
 "encoding":{"y":{"field":"p","type":"quantitative","scale":{"domain":[3903.43,4054.14],"nice":false,"zero":false},
   "axis":{"title":null,"orient":"right","values":[3910,3920,3930,3940,3950,3960,3970,3980,3990,4000,4010,4020,4030,4040,4050],"format":".2f","grid":false,"labelColor":"#a6a6a6","labelFontSize":11,"labelPadding":3,"tickColor":"#b0b0b0","tickSize":4,"domainColor":"#8c8c8c","domainWidth":1.5}}}},
{"data":{"name":"rth"},
 "transform":[{"lookup":"z","from":{"data":{"name":"zones"},"key":"z","fields":["s","k"]}}],
 "mark":{"type":"area","orient":"horizontal","interpolate":"step-after"},
 "encoding":{"y":{"field":"p","type":"quantitative"},"x":{"field":"e","type":"quantitative"},"x2":{"field":"s"},"detail":{"field":"z"},
  "color":{"field":"k","type":"nominal","legend":null,"scale":{"domain":["eo","ev","ro","rv"],"range":["#56768e","#8ed1ff","#28527e","#2279d3"]}}}},
{"data":{"name":"levels"},"mark":{"type":"rule","strokeDash":[2,2],"strokeWidth":1},
 "encoding":{"y":{"field":"p","type":"quantitative"},"x":{"field":"s","type":"quantitative"},"x2":{"field":"e"},
  "color":{"field":"k","type":"nominal","legend":null,"scale":{"domain":["range","va","poc"],"range":["#7d7d7d","#2e7fd0","#d9d91e"]}}}},
{"data":{"name":"levels"},"mark":{"type":"text","align":"right","baseline":"bottom","dy":-1,"fontSize":11.5},
 "encoding":{"y":{"field":"p","type":"quantitative"},"x":{"field":"e","type":"quantitative"},"text":{"field":"t"},
  "color":{"field":"k","type":"nominal","legend":null,"scale":{"domain":["range","va","poc"],"range":["#7d7d7d","#2e7fd0","#d9d91e"]}}}},
{"data":{"name":"pocR"},"mark":{"type":"rule","color":"#ecec3a","strokeWidth":2.5},
 "encoding":{"y":{"field":"p","type":"quantitative"},"x":{"field":"s","type":"quantitative"},"x2":{"field":"e"}}},
{"data":{"name":"candles"},"mark":{"type":"rule","color":"#a8a8a8","strokeWidth":1.3},
 "encoding":{"x":{"field":"i","type":"quantitative"},"y":{"field":"l","type":"quantitative"},"y2":{"field":"h"}}},
{"data":{"name":"candles"},"mark":{"type":"bar","orient":"vertical","size":5.5,"stroke":"#bdbdbd","strokeWidth":0.6},
 "encoding":{"x":{"field":"i","type":"quantitative"},"y":{"field":"o","type":"quantitative"},"y2":{"field":"c"},
  "color":{"condition":{"test":"datum.c>=datum.o","value":"#3ccb4a"},"value":"#f41818"}}},
{"data":{"name":"vwap"},"mark":{"type":"line","color":"#b473bd","strokeWidth":1.3},
 "encoding":{"x":{"field":"i","type":"quantitative"},"y":{"field":"p","type":"quantitative"},"detail":{"field":"g"}}},
{"data":{"name":"eth"},
 "transform":[{"lookup":"z","from":{"data":{"name":"zones"},"key":"z","fields":["s","k"]}}],
 "mark":{"type":"area","orient":"horizontal","interpolate":"step-after","opacity":0.8},
 "encoding":{"y":{"field":"p","type":"quantitative"},"x":{"field":"e","type":"quantitative"},"x2":{"field":"s"},"detail":{"field":"z"},
  "color":{"field":"k","type":"nominal","legend":null,"scale":{"domain":["eo","ev","ro","rv"],"range":["#56768e","#8ed1ff","#28527e","#2279d3"]}}}},
{"data":{"name":"pocE"},"mark":{"type":"rule","color":"#ecec3a","strokeWidth":2.5},
 "encoding":{"y":{"field":"p","type":"quantitative"},"x":{"field":"s","type":"quantitative"},"x2":{"field":"e"}}},
{"data":{"name":"totals"},"mark":{"type":"text","align":"left","baseline":"top","dy":5,"dx":2,"fontSize":11.5,"color":"#165c10"},
 "encoding":{"y":{"field":"p","type":"quantitative"},"x":{"field":"s","type":"quantitative"},"text":{"field":"t"}}},
{"data":{"name":"flags"},"mark":{"type":"point","shape":"M-32,0 L-27,-7 L24,-7 L24,7 L-27,7 Z","size":4,"filled":true,"opacity":1,"fill":"#3b3b3b","stroke":"#5a5a5a","strokeWidth":1,"clip":false},
 "encoding":{"x":{"field":"i","type":"quantitative"},"y":{"field":"p","type":"quantitative"}}},
{"data":{"name":"flags"},"mark":{"type":"text","align":"center","baseline":"middle","fontSize":12,"color":"#dcdcdc"},
 "encoding":{"x":{"field":"i","type":"quantitative"},"y":{"field":"p","type":"quantitative"},"text":{"field":"t"}}}
],
"resolve":{"scale":{"color":"independent"}}
}
